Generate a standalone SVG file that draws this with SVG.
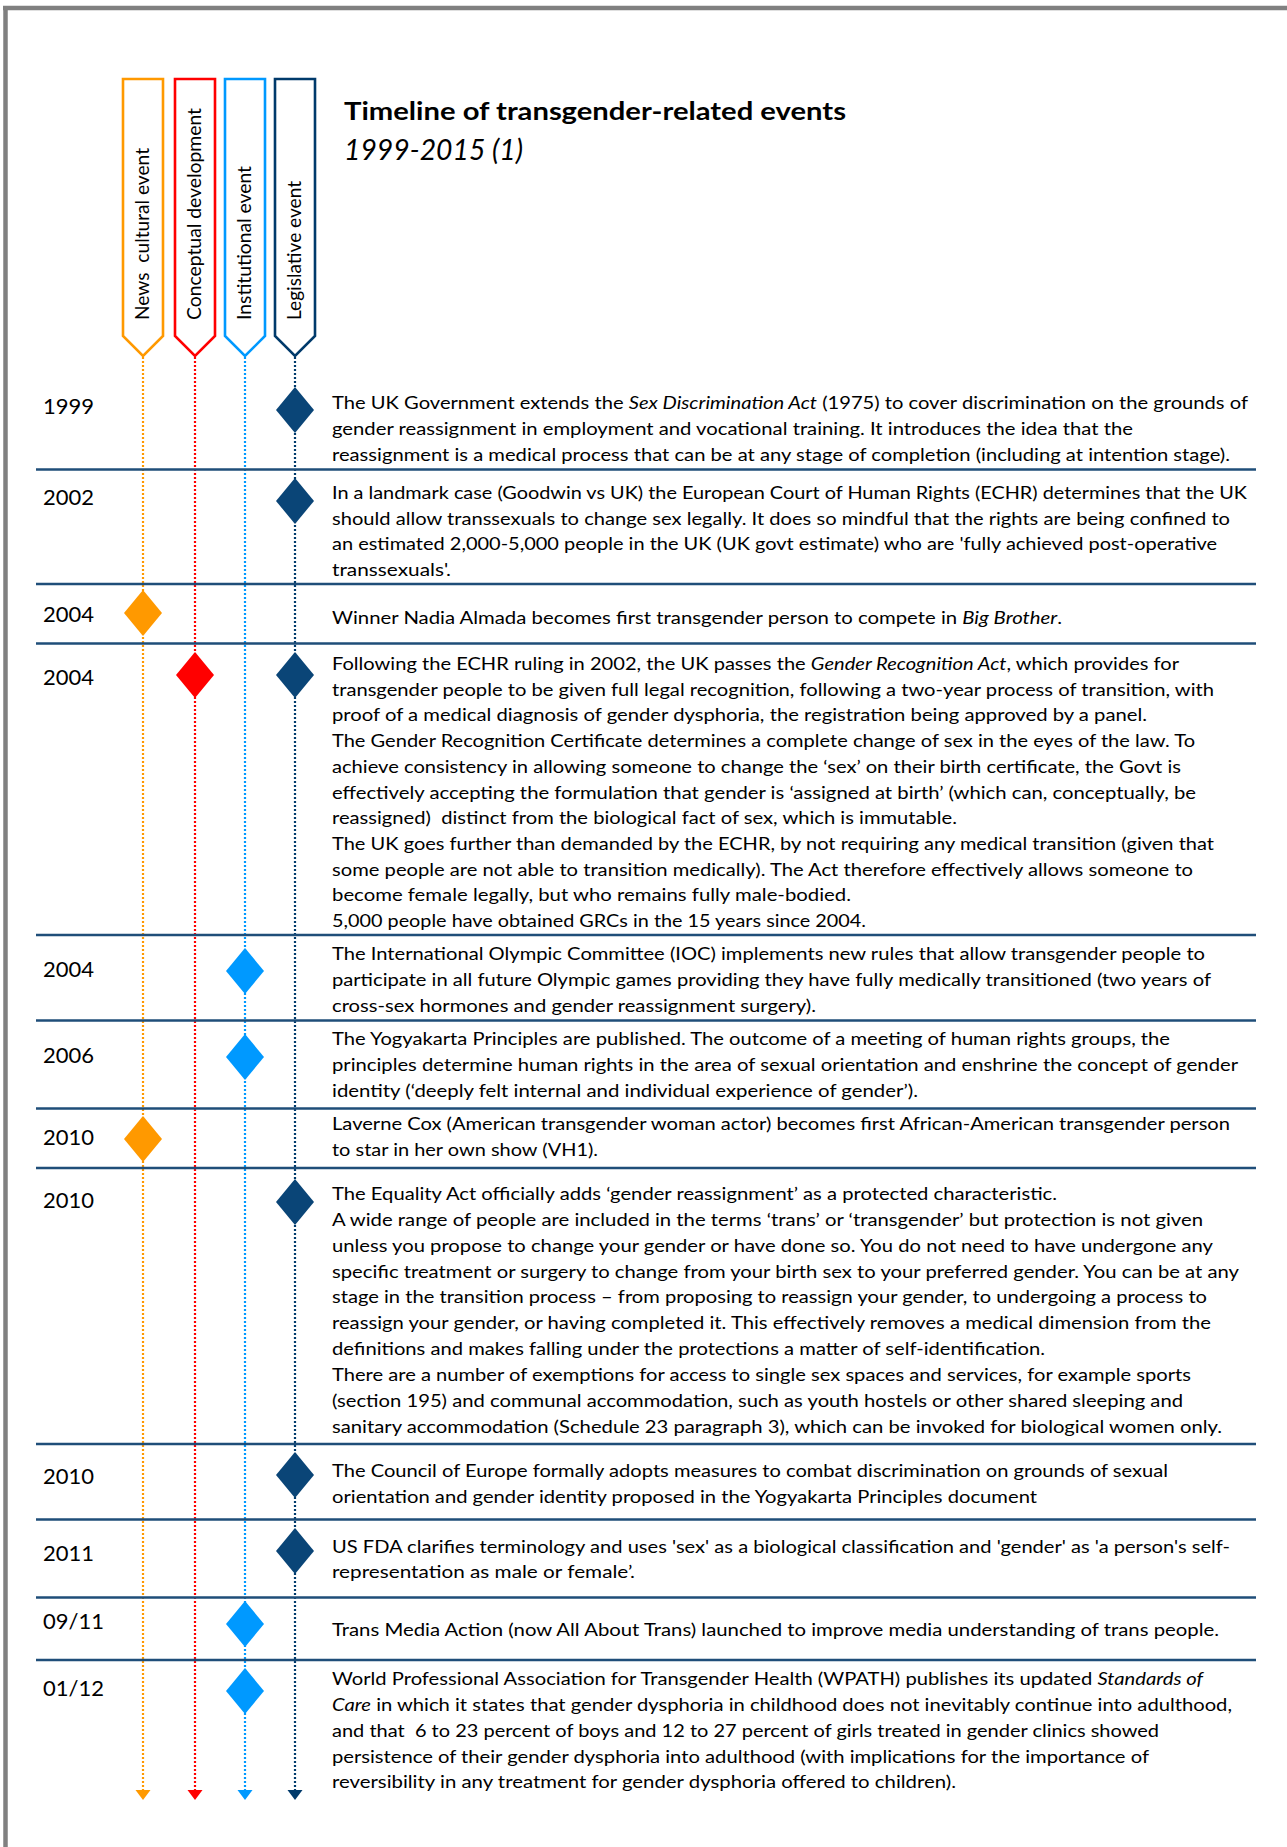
<svg xmlns="http://www.w3.org/2000/svg" width="1287" height="1847" viewBox="0 0 1287 1847">
<style>
.t{font-family:Lato,"Liberation Sans",sans-serif;font-size:17.5px;fill:#000;white-space:pre}
.yr{font-family:Lato,"Liberation Sans",sans-serif;font-size:22px;fill:#000}
.lab{font-family:Lato,"Liberation Sans",sans-serif;font-size:18.5px;fill:#000;white-space:pre}
.sep{stroke:#1F4E79;stroke-width:2.6}
.dot{stroke-width:2.2;stroke-dasharray:2 2;fill:none}
.box{fill:#fff;stroke-width:2.6}
.i{font-style:italic}
</style>
<defs>
<marker id="aO" markerUnits="userSpaceOnUse" markerWidth="16" markerHeight="11" viewBox="-8 0 16 11" refX="0" refY="0" orient="0"><path d="M-7.5,0 L7.5,0 L0,10 Z" fill="#FF9900"/></marker>
<marker id="aR" markerUnits="userSpaceOnUse" markerWidth="16" markerHeight="11" viewBox="-8 0 16 11" refX="0" refY="0" orient="0"><path d="M-7.5,0 L7.5,0 L0,10 Z" fill="#FF0000"/></marker>
<marker id="aB" markerUnits="userSpaceOnUse" markerWidth="16" markerHeight="11" viewBox="-8 0 16 11" refX="0" refY="0" orient="0"><path d="M-7.5,0 L7.5,0 L0,10 Z" fill="#0099FF"/></marker>
<marker id="aD" markerUnits="userSpaceOnUse" markerWidth="16" markerHeight="11" viewBox="-8 0 16 11" refX="0" refY="0" orient="0"><path d="M-7.5,0 L7.5,0 L0,10 Z" fill="#003A6B"/></marker>
<path id="dm" d="M0,-23 L19,0 L0,23 L-19,0 Z"/>
</defs>
<rect width="1287" height="1847" fill="#fff"/>
<g id="frame" stroke="#808080" fill="none">
<line x1="3" y1="8" x2="1287" y2="8" stroke-width="4.5"/>
<line x1="5.5" y1="6" x2="5.5" y2="1847" stroke-width="4.5"/>
</g>

<g id="connectors">
<line class="dot" x1="143" y1="357" x2="143" y2="1790" stroke="#FF9900" marker-end="url(#aO)"/>
<line class="dot" x1="195" y1="357" x2="195" y2="1790" stroke="#FF0000" marker-end="url(#aR)"/>
<line class="dot" x1="245" y1="357" x2="245" y2="1790" stroke="#0099FF" marker-end="url(#aB)"/>
<line class="dot" x1="295" y1="357" x2="295" y2="1790" stroke="#003A6B" marker-end="url(#aD)"/>
</g>

<g id="title">
<text x="344" y="120" font-family="Lato,'Liberation Sans',sans-serif" font-weight="bold" font-size="25.5" textLength="502" lengthAdjust="spacingAndGlyphs">Timeline of transgender-related events</text>
<text x="344" y="160" font-family="Lato,'Liberation Sans',sans-serif" font-style="italic" font-size="28" textLength="179" lengthAdjust="spacingAndGlyphs">1999-2015 (1)</text>
</g>

<g id="legend-news">
<path class="box" stroke="#FF9900" d="M123,79 H163 V336 L143,356 L123,336 Z"/>
<text class="lab" transform="translate(149,320) rotate(-90)" textLength="172" lengthAdjust="spacingAndGlyphs">News  cultural event</text>
</g>
<g id="legend-conceptual">
<path class="box" stroke="#FF0000" d="M175,79 H215 V336 L195,356 L175,336 Z"/>
<text class="lab" transform="translate(201,320) rotate(-90)" textLength="212" lengthAdjust="spacingAndGlyphs">Conceptual development</text>
</g>
<g id="legend-institutional">
<path class="box" stroke="#0099FF" d="M225,79 H265 V336 L245,356 L225,336 Z"/>
<text class="lab" transform="translate(251,320) rotate(-90)" textLength="154" lengthAdjust="spacingAndGlyphs">Institutional event</text>
</g>
<g id="legend-legislative">
<path class="box" stroke="#003A6B" d="M275,79 H315 V336 L295,356 L275,336 Z"/>
<text class="lab" transform="translate(301,320) rotate(-90)" textLength="139" lengthAdjust="spacingAndGlyphs">Legislative event</text>
</g>

<g id="separators">
<line class="sep" x1="36" y1="469.5" x2="1256" y2="469.5"/>
<line class="sep" x1="36" y1="584" x2="1256" y2="584"/>
<line class="sep" x1="36" y1="643.5" x2="1256" y2="643.5"/>
<line class="sep" x1="36" y1="935" x2="1256" y2="935"/>
<line class="sep" x1="36" y1="1020.5" x2="1256" y2="1020.5"/>
<line class="sep" x1="36" y1="1108.5" x2="1256" y2="1108.5"/>
<line class="sep" x1="36" y1="1168" x2="1256" y2="1168"/>
<line class="sep" x1="36" y1="1444" x2="1256" y2="1444"/>
<line class="sep" x1="36" y1="1519.5" x2="1256" y2="1519.5"/>
<line class="sep" x1="36" y1="1597.5" x2="1256" y2="1597.5"/>
<line class="sep" x1="36" y1="1660" x2="1256" y2="1660"/>
</g>

<g id="e1999">
<text class="yr" x="43" y="414">1999</text>
<use href="#dm" x="295" y="410" fill="#0A4577"/>
<text class="t" x="332" y="409" textLength="916" lengthAdjust="spacingAndGlyphs">The UK Government extends the <tspan class="i">Sex Discrimination Act</tspan> (1975) to cover discrimination on the grounds of</text>
<text class="t" x="332" y="435" textLength="801" lengthAdjust="spacingAndGlyphs">gender reassignment in employment and vocational training. It introduces the idea that the</text>
<text class="t" x="332" y="461" textLength="898" lengthAdjust="spacingAndGlyphs">reassignment is a medical process that can be at any stage of completion (including at intention stage).</text>
</g>

<g id="e2002">
<text class="yr" x="43" y="505">2002</text>
<use href="#dm" x="295" y="501" fill="#0A4577"/>
<text class="t" x="332" y="499" textLength="915" lengthAdjust="spacingAndGlyphs">In a landmark case (Goodwin vs UK) the European Court of Human Rights (ECHR) determines that the UK</text>
<text class="t" x="332" y="525" textLength="898" lengthAdjust="spacingAndGlyphs">should allow transsexuals to change sex legally. It does so mindful that the rights are being confined to</text>
<text class="t" x="332" y="550" textLength="885" lengthAdjust="spacingAndGlyphs">an estimated 2,000-5,000 people in the UK (UK govt estimate) who are 'fully achieved post-operative</text>
<text class="t" x="332" y="576" textLength="119" lengthAdjust="spacingAndGlyphs">transsexuals'.</text>
</g>

<g id="e2004a">
<text class="yr" x="43" y="622">2004</text>
<use href="#dm" x="143" y="613" fill="#FF9900"/>
<text class="t" x="332" y="624" textLength="730" lengthAdjust="spacingAndGlyphs">Winner Nadia Almada becomes first transgender person to compete in <tspan class="i">Big Brother</tspan>.</text>
</g>

<g id="e2004b">
<text class="yr" x="43" y="685">2004</text>
<use href="#dm" x="195" y="675" fill="#FF0000"/>
<use href="#dm" x="295" y="675" fill="#0A4577"/>
<text class="t" x="332" y="670" textLength="847" lengthAdjust="spacingAndGlyphs">Following the ECHR ruling in 2002, the UK passes the <tspan class="i">Gender Recognition Act</tspan>, which provides for</text>
<text class="t" x="332" y="695.7" textLength="882" lengthAdjust="spacingAndGlyphs">transgender people to be given full legal recognition, following a two-year process of transition, with</text>
<text class="t" x="332" y="721.4" textLength="815" lengthAdjust="spacingAndGlyphs">proof of a medical diagnosis of gender dysphoria, the registration being approved by a panel.</text>
<text class="t" x="332" y="747.1" textLength="863" lengthAdjust="spacingAndGlyphs">The Gender Recognition Certificate determines a complete change of sex in the eyes of the law. To</text>
<text class="t" x="332" y="772.8" textLength="849" lengthAdjust="spacingAndGlyphs">achieve consistency in allowing someone to change the ‘sex’ on their birth certificate, the Govt is</text>
<text class="t" x="332" y="798.5" textLength="864" lengthAdjust="spacingAndGlyphs">effectively accepting the formulation that gender is ‘assigned at birth’ (which can, conceptually, be</text>
<text class="t" x="332" y="824.2" textLength="625" lengthAdjust="spacingAndGlyphs">reassigned)  distinct from the biological fact of sex, which is immutable.</text>
<text class="t" x="332" y="849.9" textLength="882" lengthAdjust="spacingAndGlyphs">The UK goes further than demanded by the ECHR, by not requiring any medical transition (given that</text>
<text class="t" x="332" y="875.6" textLength="861" lengthAdjust="spacingAndGlyphs">some people are not able to transition medically). The Act therefore effectively allows someone to</text>
<text class="t" x="332" y="901.3" textLength="519" lengthAdjust="spacingAndGlyphs">become female legally, but who remains fully male-bodied.</text>
<text class="t" x="332" y="927" textLength="534" lengthAdjust="spacingAndGlyphs">5,000 people have obtained GRCs in the 15 years since 2004.</text>
</g>

<g id="e2004c">
<text class="yr" x="43" y="977">2004</text>
<use href="#dm" x="245" y="971" fill="#0099FF"/>
<text class="t" x="332" y="960" textLength="873" lengthAdjust="spacingAndGlyphs">The International Olympic Committee (IOC) implements new rules that allow transgender people to</text>
<text class="t" x="332" y="986" textLength="879" lengthAdjust="spacingAndGlyphs">participate in all future Olympic games providing they have fully medically transitioned (two years of</text>
<text class="t" x="332" y="1012" textLength="484" lengthAdjust="spacingAndGlyphs">cross-sex hormones and gender reassignment surgery).</text>
</g>

<g id="e2006">
<text class="yr" x="43" y="1063">2006</text>
<use href="#dm" x="245" y="1057" fill="#0099FF"/>
<text class="t" x="332" y="1045" textLength="838" lengthAdjust="spacingAndGlyphs">The Yogyakarta Principles are published. The outcome of a meeting of human rights groups, the</text>
<text class="t" x="332" y="1071" textLength="906" lengthAdjust="spacingAndGlyphs">principles determine human rights in the area of sexual orientation and enshrine the concept of gender</text>
<text class="t" x="332" y="1097" textLength="586" lengthAdjust="spacingAndGlyphs">identity (‘deeply felt internal and individual experience of gender’).</text>
</g>

<g id="e2010a">
<text class="yr" x="43" y="1145">2010</text>
<use href="#dm" x="143" y="1139" fill="#FF9900"/>
<text class="t" x="332" y="1130" textLength="898" lengthAdjust="spacingAndGlyphs">Laverne Cox (American transgender woman actor) becomes first African-American transgender person</text>
<text class="t" x="332" y="1156" textLength="266" lengthAdjust="spacingAndGlyphs">to star in her own show (VH1).</text>
</g>

<g id="e2010b">
<text class="yr" x="43" y="1208">2010</text>
<use href="#dm" x="295" y="1202" fill="#0A4577"/>
<text class="t" x="332" y="1200" textLength="725" lengthAdjust="spacingAndGlyphs">The Equality Act officially adds ‘gender reassignment’ as a protected characteristic.</text>
<text class="t" x="332" y="1226" textLength="871" lengthAdjust="spacingAndGlyphs">A wide range of people are included in the terms ‘trans’ or ‘transgender’ but protection is not given</text>
<text class="t" x="332" y="1252" textLength="881" lengthAdjust="spacingAndGlyphs">unless you propose to change your gender or have done so. You do not need to have undergone any</text>
<text class="t" x="332" y="1278" textLength="907" lengthAdjust="spacingAndGlyphs">specific treatment or surgery to change from your birth sex to your preferred gender. You can be at any</text>
<text class="t" x="332" y="1303" textLength="875" lengthAdjust="spacingAndGlyphs">stage in the transition process – from proposing to reassign your gender, to undergoing a process to</text>
<text class="t" x="332" y="1329" textLength="879" lengthAdjust="spacingAndGlyphs">reassign your gender, or having completed it. This effectively removes a medical dimension from the</text>
<text class="t" x="332" y="1355" textLength="713" lengthAdjust="spacingAndGlyphs">definitions and makes falling under the protections a matter of self-identification.</text>
<text class="t" x="332" y="1381" textLength="859" lengthAdjust="spacingAndGlyphs">There are a number of exemptions for access to single sex spaces and services, for example sports</text>
<text class="t" x="332" y="1407" textLength="851" lengthAdjust="spacingAndGlyphs">(section 195) and communal accommodation, such as youth hostels or other shared sleeping and</text>
<text class="t" x="332" y="1433" textLength="890" lengthAdjust="spacingAndGlyphs">sanitary accommodation (Schedule 23 paragraph 3), which can be invoked for biological women only.</text>
</g>

<g id="e2010c">
<text class="yr" x="43" y="1484">2010</text>
<use href="#dm" x="295" y="1475" fill="#0A4577"/>
<text class="t" x="332" y="1477" textLength="836" lengthAdjust="spacingAndGlyphs">The Council of Europe formally adopts measures to combat discrimination on grounds of sexual</text>
<text class="t" x="332" y="1503" textLength="705" lengthAdjust="spacingAndGlyphs">orientation and gender identity proposed in the Yogyakarta Principles document</text>
</g>

<g id="e2011">
<text class="yr" x="43" y="1561">2011</text>
<use href="#dm" x="295" y="1551" fill="#0A4577"/>
<text class="t" x="332" y="1553" textLength="898" lengthAdjust="spacingAndGlyphs">US FDA clarifies terminology and uses 'sex' as a biological classification and 'gender' as 'a person's self-</text>
<text class="t" x="332" y="1578" textLength="303" lengthAdjust="spacingAndGlyphs">representation as male or female’.</text>
</g>

<g id="e0911">
<text class="yr" x="43" y="1629">09/11</text>
<use href="#dm" x="245" y="1624" fill="#0099FF"/>
<text class="t" x="332" y="1636" textLength="887" lengthAdjust="spacingAndGlyphs">Trans Media Action (now All About Trans) launched to improve media understanding of trans people.</text>
</g>

<g id="e0112">
<text class="yr" x="43" y="1696">01/12</text>
<use href="#dm" x="245" y="1691" fill="#0099FF"/>
<text class="t" x="332" y="1685" textLength="871" lengthAdjust="spacingAndGlyphs">World Professional Association for Transgender Health (WPATH) publishes its updated <tspan class="i">Standards of</tspan></text>
<text class="t" x="332" y="1711" textLength="900" lengthAdjust="spacingAndGlyphs"><tspan class="i">Care</tspan> in which it states that gender dysphoria in childhood does not inevitably continue into adulthood,</text>
<text class="t" x="332" y="1737" textLength="827" lengthAdjust="spacingAndGlyphs">and that  6 to 23 percent of boys and 12 to 27 percent of girls treated in gender clinics showed</text>
<text class="t" x="332" y="1763" textLength="817" lengthAdjust="spacingAndGlyphs">persistence of their gender dysphoria into adulthood (with implications for the importance of</text>
<text class="t" x="332" y="1788" textLength="624" lengthAdjust="spacingAndGlyphs">reversibility in any treatment for gender dysphoria offered to children).</text>
</g>
</svg>
